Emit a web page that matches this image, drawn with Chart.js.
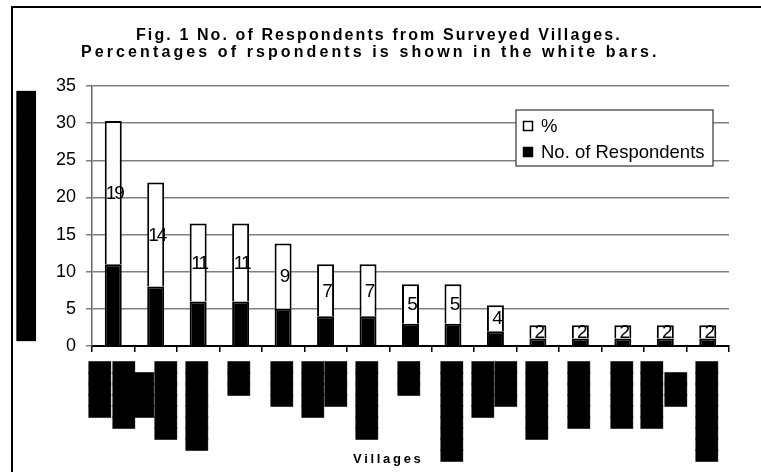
<!DOCTYPE html>
<html><head><meta charset="utf-8">
<script src="https://cdn.jsdelivr.net/npm/chart.js@4.4.0/dist/chart.umd.min.js"></script>
<style>html,body{margin:0;padding:0;background:#fff}#wrap{width:761px;height:472px;position:relative}</style>
</head><body><div id="wrap"><canvas id="c" width="761" height="472"></canvas></div>
<script>
// Village names are redacted (black blocks) in the source picture
const villageLabels = [
  ["█████", "", "██████"],
  ["████ ", "", "███████"],
  ["", "████████"],
  ["", "███"],
  ["", "████"],
  ["█████", "", "████"],
  ["", "███████"],
  ["", "███"],
  ["", "█████████"],
  ["█████", "", "████"],
  ["", "███████"],
  ["", "██████"],
  ["", "██████"],
  ["██████", "", "███ "],
  ["", "█████████"]
];
const respondents = [11, 8, 6, 6, 5, 4, 4, 3, 3, 2, 1, 1, 1, 1, 1];
const percent = [19.3, 14.0, 10.5, 10.5, 8.8, 7.0, 7.0, 5.3, 5.3, 3.5, 1.8, 1.8, 1.8, 1.8, 1.8];
const yTickMin = 0, yTickMax = 35, yTickStep = 5;
const titleLines = ["Fig. 1 No. of Respondents from Surveyed Villages.", "Percentages of rspondents is shown in the white bars."];
const xTitle = "Villages";
const yTitle = "█████████████████████████"; // redacted axis title

const framePlugin = {
  id: 'frame',
  beforeDraw(chart) {
    const ctx = chart.ctx;
    ctx.save();
    ctx.fillStyle = '#fff';
    ctx.fillRect(0, 0, chart.width, chart.height);
    ctx.fillStyle = '#000';
    ctx.fillRect(11, 6, chart.width - 11, 2);
    ctx.fillRect(11, 6, 2, chart.height - 6);
    ctx.restore();
  },
  afterDraw(chart) {
    const ctx = chart.ctx, a = chart.chartArea;
    ctx.save();
    ctx.fillStyle = '#000';
    ctx.textAlign = 'left';
    ctx.textBaseline = 'alphabetic';
    ctx.font = 'bold 16px "Liberation Sans", Arial, sans-serif';
    ctx.letterSpacing = '2.1px';
    ctx.fillText(titleLines[0], 136, 40);
    ctx.letterSpacing = '3.1px';
    ctx.fillText(titleLines[1], 81, 56.5);
    ctx.font = 'bold 13px "Liberation Sans", Arial, sans-serif';
    ctx.letterSpacing = '2.7px';
    ctx.fillText(xTitle, 353, 463);
    ctx.letterSpacing = '0px';
    // legend
    const lx = a.right - 213, ly = a.top + 24, lw = 197, lh = 56;
    ctx.fillStyle = '#fff';
    ctx.fillRect(lx, ly, lw, lh);
    ctx.strokeStyle = '#333';
    ctx.lineWidth = 1.2;
    ctx.strokeRect(lx, ly, lw, lh);
    const items = chart.data.datasets.slice().reverse();
    ctx.font = '18.5px "Liberation Sans", Arial, sans-serif';
    ctx.textBaseline = 'middle';
    items.forEach((ds, i) => {
      const cy = ly + 16 + i * 26;
      ctx.fillStyle = ds.backgroundColor;
      ctx.fillRect(lx + 7.5, cy - 4.5, 9, 9);
      ctx.strokeStyle = '#000';
      ctx.lineWidth = 1.5;
      ctx.strokeRect(lx + 7.5, cy - 4.5, 9, 9);
      ctx.fillStyle = '#000';
      ctx.fillText(ds.label, lx + 25, cy + 1);
    });
    ctx.restore();
  },
  afterDatasetsDraw(chart) {
    const ctx = chart.ctx;
    const meta = chart.getDatasetMeta(1);
    const vals = chart.data.datasets[1].data;
    ctx.save();
    ctx.fillStyle = '#000';
    ctx.font = '19px "Liberation Sans", Arial, sans-serif';
    ctx.textAlign = 'center';
    ctx.textBaseline = 'middle';
    ctx.letterSpacing = '-2px';
    meta.data.forEach((bar, i) => {
      const p = bar.getProps(['x', 'y', 'base'], true);
      ctx.fillText(String(Math.round(vals[i])), p.x + 1, (p.y + p.base) / 2 + 1);
    });
    ctx.restore();
  }
};

new Chart(document.getElementById('c'), {
  type: 'bar',
  data: {
    labels: villageLabels,
    datasets: [
      { label: 'No. of Respondents', data: respondents, backgroundColor: '#000', borderColor: '#000', borderWidth: 2, stack: 's' },
      { label: '%', data: percent, backgroundColor: '#fff', borderColor: '#000', borderWidth: 2, stack: 's' }
    ]
  },
  options: {
    responsive: false,
    animation: false,
    devicePixelRatio: 1,
    layout: { padding: { top: 86, right: 32, bottom: 0, left: 0 } },
    plugins: { legend: { display: false }, title: { display: false }, tooltip: { enabled: false } },
    datasets: { bar: { categoryPercentage: 0.4, barPercentage: 1 } },
    scales: {
      x: {
        stacked: true,
        grid: { display: true, drawOnChartArea: false, drawTicks: true, tickLength: 6, color: '#000', lineWidth: 1.5, offset: true },
        border: { color: '#000', width: 2 },
        ticks: { autoSkip: false, minRotation: 90, maxRotation: 90, padding: 10, labelOffset: -11.6, color: '#000',
          textStrokeColor: '#000', textStrokeWidth: 1,
          font: { family: 'DejaVu Sans Mono', size: 18.27, lineHeight: '11.6px' } },
        afterFit: s => { s.height = 126; }
      },
      y: {
        stacked: true, min: yTickMin, max: yTickMax,
        ticks: { stepSize: yTickStep, padding: 10, color: '#000', font: { family: 'Liberation Sans', size: 18 } },
        grid: { color: '#808080', lineWidth: 1.5, tickLength: 6 },
        border: { color: '#666', width: 1.5 },
        title: { display: true, text: yTitle, color: '#000', font: { family: 'DejaVu Sans Mono', size: 16.61, lineHeight: '20px' }, padding: { top: 18, bottom: 0 } },
        afterFit: s => { s.width = 92; }
      }
    }
  },
  plugins: [framePlugin]
});
</script></body></html>
